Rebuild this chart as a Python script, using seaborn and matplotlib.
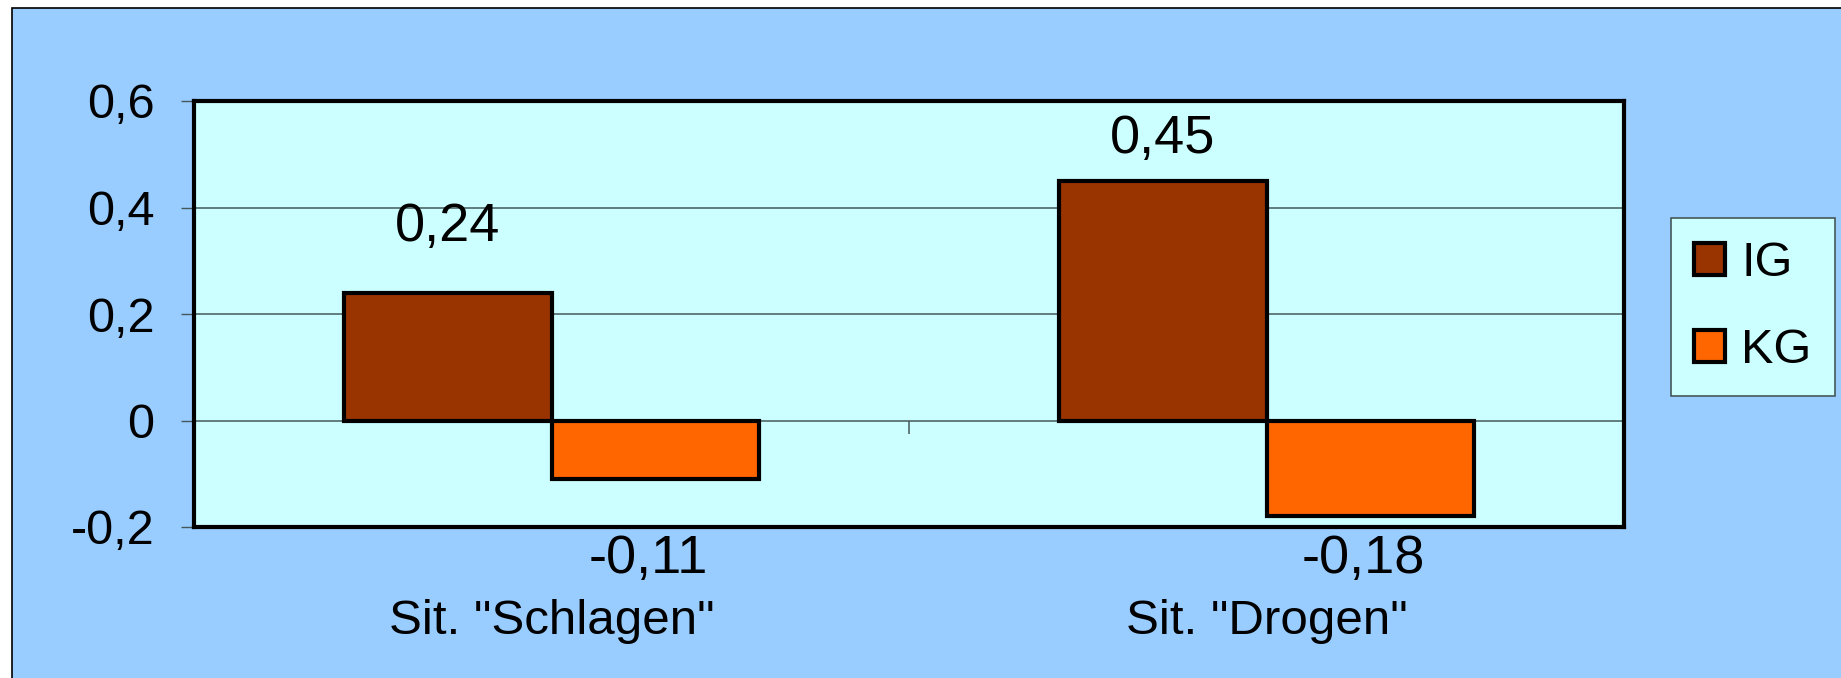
import pandas as pd
import numpy as np
import matplotlib
matplotlib.use("Agg")
import matplotlib.pyplot as plt
from matplotlib.patches import Rectangle
from matplotlib.ticker import FuncFormatter
import matplotlib.transforms as mtransforms
import seaborn as sns

# -------------------------------
# Data
# -------------------------------
situations = ['Sit. "Schlagen"', 'Sit. "Drogen"']
groups = ["IG", "KG"]
ig_values = [0.24, 0.45]
kg_values = [-0.11, -0.18]
value_labels_ig = ["0,24", "0,45"]
value_labels_kg = ["-0,11", "-0,18"]
y_ticks = [-0.2, 0, 0.2, 0.4, 0.6]

df = pd.DataFrame({
    "situation": situations * 2,
    "gruppe": ["IG"] * len(situations) + ["KG"] * len(situations),
    "wert": ig_values + kg_values,
})

colors = {"IG": "#993300", "KG": "#FF6600"}

plt.rcParams["font.family"] = ["Liberation Sans", "DejaVu Sans"]
plt.rcParams["font.size"] = 36

# -------------------------------
# Figure + background frame
# -------------------------------
fig = plt.figure(figsize=(18.41, 6.78), dpi=100)
fig.patch.set_facecolor("white")
fig.add_artist(Rectangle((12 / 1841, -0.05), 1.2, 1.05 - 8 / 678,
                         transform=fig.transFigure, facecolor="#99CCFF",
                         edgecolor="black", linewidth=1.2, zorder=-10))

ax = fig.add_axes([194 / 1841, 1 - 527 / 678, 1430 / 1841, 426 / 678])
ax.set_facecolor("#CCFFFF")

sns.barplot(data=df, x="situation", y="wert", hue="gruppe", palette=colors,
            width=0.58, saturation=1, edgecolor="black", linewidth=3,
            errorbar=None, ax=ax, zorder=3)

ax.set_xlim(-0.5, len(situations) - 0.5)
ax.set_ylim(min(y_ticks), max(y_ticks))
ax.set_yticks(y_ticks)
ax.yaxis.set_major_formatter(FuncFormatter(
    lambda v, p: ("0" if abs(v) < 1e-9 else f"{v:g}".replace(".", ","))))
ax.set_xlabel("")
ax.set_ylabel("")

# gridlines + zero line
for t in y_ticks[1:-1]:
    ax.axhline(t, color="#44585a", linewidth=1.1, zorder=1)
mid = (len(situations) - 1) / 2
ax.vlines(mid, 0, -0.025, color="#44585a", linewidth=1.1, zorder=1)

for s in ax.spines.values():
    s.set_linewidth(3)
    s.set_color("black")
    s.set_zorder(5)

ax.tick_params(axis="y", length=9.5, width=1, color="#44585a", pad=19,
               labelsize=35)
ax.tick_params(axis="x", length=0, pad=52, labelsize=35.5)

# -------------------------------
# Value labels
# -------------------------------
ig_offsets = [47, 30]  # points above bar top
for bar, txt, off in zip(ax.containers[0], value_labels_ig, ig_offsets):
    cx = bar.get_x() + bar.get_width() / 2
    ax.annotate(txt, xy=(cx, bar.get_height()), xytext=(0, off),
                textcoords="offset points", ha="center", va="center",
                fontsize=39)

blend = mtransforms.blended_transform_factory(ax.transData, ax.transAxes)
for bar, txt in zip(ax.containers[1], value_labels_kg):
    cx = bar.get_x() + bar.get_width() / 2
    ax.annotate(txt, xy=(cx, 0), xycoords=blend, xytext=(-5, -23),
                textcoords="offset points", ha="center", va="center",
                fontsize=39, annotation_clip=False)

# -------------------------------
# Legend
# -------------------------------
handles, labels = ax.get_legend_handles_labels()
leg = ax.legend(handles, labels, loc="upper left",
                bbox_to_anchor=(1671 / 1841, 1 - 218 / 678),
                bbox_transform=fig.transFigure, frameon=True, fancybox=False,
                facecolor="#CCFFFF", edgecolor="#44585a", framealpha=1,
                handlelength=0.64, handleheight=0.64, handletextpad=0.32,
                labelspacing=0.86, borderpad=0.48, borderaxespad=0,
                fontsize=35)
leg.get_frame().set_linewidth(1.2)

fig.savefig("out.png", dpi=100)
